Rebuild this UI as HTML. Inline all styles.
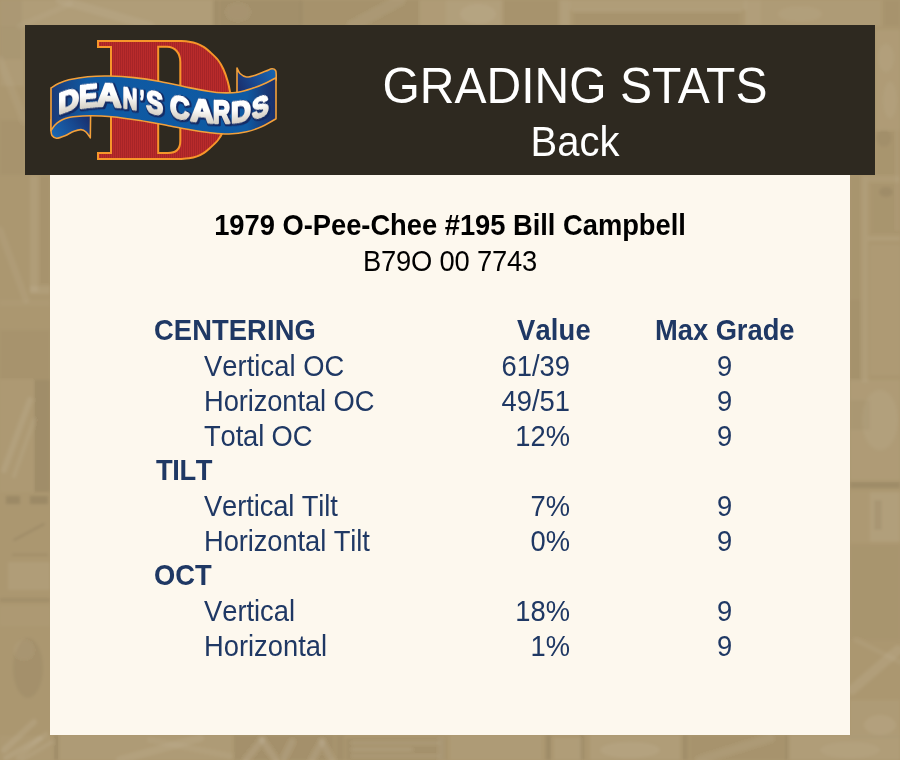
<!DOCTYPE html>
<html><head><meta charset="utf-8"><title>Grading Stats</title>
<style>
html,body{margin:0;padding:0;}
body{width:900px;height:760px;position:relative;overflow:hidden;background:#ab9770;font-family:"Liberation Sans",Arial,sans-serif;font-kerning:none;}
#hdr{position:absolute;left:25px;top:25px;width:850px;height:150px;background:#2e2920;}
#panel{position:absolute;left:50px;top:175px;width:800px;height:560px;background:#fdf8ee;}
#t1{font-kerning:normal;transform:scaleY(1.042);transform-origin:0 44.6px;position:absolute;left:275px;width:600px;top:59.1px;text-align:center;color:#fff;font-size:48px;line-height:56px;white-space:nowrap;}
#t2{transform:scaleY(1.042);transform-origin:0 36.9px;position:absolute;left:275px;width:600px;top:118.7px;text-align:center;color:#fff;font-size:40px;line-height:46px;white-space:nowrap;}
#name{transform:scaleY(1.05);transform-origin:0 24.5px;letter-spacing:-0.02px;position:absolute;left:50px;width:800px;top:210.7px;text-align:center;font-weight:bold;font-size:27.33px;line-height:30px;color:#000;white-space:nowrap;}
#sku{transform:scaleY(1.05);transform-origin:0 24.5px;letter-spacing:-0.19px;position:absolute;left:50px;width:800px;top:246.8px;text-align:center;font-size:27.33px;line-height:30px;color:#000;white-space:nowrap;}
.row{transform:scaleY(1.05);transform-origin:0 27px;position:absolute;left:0;width:900px;height:35px;line-height:35px;font-size:27.33px;color:#1f3864;white-space:nowrap;}
.row span{position:absolute;top:0;}
.h{font-weight:bold;left:154px;}
.l{left:204px;}
.v{right:330px;text-align:right;}
.vh{left:517px;font-weight:bold;}
.g{left:717px;}
.gh{left:655px;font-weight:bold;}
</style></head><body>
<!--BG--><svg id="bg" width="900" height="760" viewBox="0 0 900 760" style="position:absolute;left:0;top:0"><defs><filter id="bgb" x="0" y="0" width="900" height="760" filterUnits="userSpaceOnUse"><feGaussianBlur stdDeviation="1.5"/></filter></defs><g filter="url(#bgb)"><rect x="0" y="0" width="212" height="26" fill="#fff" fill-opacity="0.053"/><rect x="0" y="0" width="22" height="60" fill="#241200" fill-opacity="0.03"/><path d="M60,0 L150,26" stroke="#fff" stroke-opacity="0.053" stroke-width="9" fill="none" stroke-linecap="round"/><path d="M20,26 L70,4" stroke="#fff" stroke-opacity="0.038" stroke-width="6" fill="none" stroke-linecap="round"/><rect x="213" y="0" width="6" height="26" fill="#241200" fill-opacity="0.06"/><rect x="220" y="0" width="82" height="26" fill="#241200" fill-opacity="0.053"/><ellipse cx="238" cy="12" rx="12" ry="9" fill="#fff" fill-opacity="0.045"/><rect x="300" y="0" width="120" height="26" fill="#241200" fill-opacity="0.03"/><path d="M352,26 L400,0" stroke="#fff" stroke-opacity="0.053" stroke-width="10" fill="none" stroke-linecap="round"/><rect x="420" y="0" width="26" height="26" fill="#fff" fill-opacity="0.045"/><rect x="446" y="0" width="56" height="26" fill="#fff" fill-opacity="0.075"/><ellipse cx="478" cy="14" rx="18" ry="10" fill="#fff" fill-opacity="0.053"/><rect x="502" y="0" width="58" height="26" fill="#241200" fill-opacity="0.022"/><rect x="560" y="0" width="10" height="26" fill="#fff" fill-opacity="0.075"/><rect x="570" y="0" width="176" height="10" fill="#fff" fill-opacity="0.06"/><rect x="574" y="11" width="166" height="15" fill="#241200" fill-opacity="0.022"/><rect x="572" y="10" width="170" height="1.5" fill="#fff" fill-opacity="0.09"/><rect x="745" y="0" width="16" height="26" fill="#fff" fill-opacity="0.068"/><rect x="761" y="0" width="120" height="26" fill="#fff" fill-opacity="0.038"/><ellipse cx="800" cy="14" rx="22" ry="8" fill="#fff" fill-opacity="0.038"/><rect x="884" y="0" width="16" height="26" fill="#241200" fill-opacity="0.022"/><rect x="0" y="736" width="52" height="24" fill="#fff" fill-opacity="0.022"/><path d="M6,758 L40,738" stroke="#fff" stroke-opacity="0.075" stroke-width="5" fill="none" stroke-linecap="round"/><path d="M22,760 L52,742" stroke="#fff" stroke-opacity="0.06" stroke-width="4" fill="none" stroke-linecap="round"/><rect x="54" y="735" width="5" height="25" fill="#241200" fill-opacity="0.06"/><rect x="60" y="735" width="172" height="25" fill="#fff" fill-opacity="0.038"/><path d="M120,760 L200,738" stroke="#fff" stroke-opacity="0.06" stroke-width="8" fill="none" stroke-linecap="round"/><path d="M150,740 L230,756" stroke="#fff" stroke-opacity="0.045" stroke-width="6" fill="none" stroke-linecap="round"/><rect x="234" y="735" width="100" height="25" fill="#241200" fill-opacity="0.045"/><path d="M246,760 L262,740" stroke="#fff" stroke-opacity="0.098" stroke-width="6" fill="none" stroke-linecap="round"/><path d="M262,740 L276,760" stroke="#fff" stroke-opacity="0.098" stroke-width="6" fill="none" stroke-linecap="round"/><path d="M292,742 L284,758" stroke="#fff" stroke-opacity="0.09" stroke-width="6" fill="none" stroke-linecap="round"/><path d="M312,760 L322,742" stroke="#fff" stroke-opacity="0.09" stroke-width="6" fill="none" stroke-linecap="round"/><path d="M322,742 L332,760" stroke="#fff" stroke-opacity="0.09" stroke-width="6" fill="none" stroke-linecap="round"/><rect x="336" y="735" width="8" height="25" fill="#241200" fill-opacity="0.045"/><rect x="346" y="738" width="100" height="22" fill="#241200" fill-opacity="0.038"/><rect x="352" y="742" width="88" height="2" fill="#fff" fill-opacity="0.09"/><rect x="352" y="748" width="60" height="3" fill="#fff" fill-opacity="0.09"/><rect x="352" y="755" width="88" height="2" fill="#fff" fill-opacity="0.075"/><rect x="438" y="738" width="6" height="22" fill="#fff" fill-opacity="0.06"/><rect x="450" y="735" width="92" height="25" fill="#fff" fill-opacity="0.038"/><rect x="546" y="735" width="5" height="25" fill="#241200" fill-opacity="0.075"/><rect x="554" y="738" width="26" height="22" fill="#fff" fill-opacity="0.06"/><rect x="580" y="735" width="4" height="25" fill="#241200" fill-opacity="0.075"/><rect x="590" y="735" width="90" height="25" fill="#fff" fill-opacity="0.053"/><ellipse cx="630" cy="750" rx="30" ry="8" fill="#fff" fill-opacity="0.053"/><rect x="682" y="735" width="6" height="25" fill="#241200" fill-opacity="0.053"/><rect x="690" y="735" width="94" height="25" fill="#241200" fill-opacity="0.022"/><path d="M700,760 L770,738" stroke="#fff" stroke-opacity="0.053" stroke-width="8" fill="none" stroke-linecap="round"/><rect x="785" y="735" width="4" height="25" fill="#241200" fill-opacity="0.068"/><rect x="790" y="735" width="110" height="25" fill="#fff" fill-opacity="0.053"/><ellipse cx="850" cy="750" rx="30" ry="8" fill="#fff" fill-opacity="0.045"/><rect x="0" y="26" width="24" height="60" fill="#fff" fill-opacity="0.038"/><path d="M0,60 L24,120" stroke="#fff" stroke-opacity="0.038" stroke-width="8" fill="none" stroke-linecap="round"/><rect x="0" y="120" width="25" height="55" fill="#241200" fill-opacity="0.022"/><rect x="30" y="176" width="8" height="116" fill="#fff" fill-opacity="0.06"/><rect x="30" y="286" width="20" height="8" fill="#fff" fill-opacity="0.06"/><rect x="39" y="176" width="11" height="110" fill="#241200" fill-opacity="0.022"/><path d="M0,230 L26,300" stroke="#fff" stroke-opacity="0.045" stroke-width="7" fill="none" stroke-linecap="round"/><rect x="0" y="300" width="50" height="6" fill="#fff" fill-opacity="0.022"/><rect x="0" y="330" width="50" height="50" fill="#241200" fill-opacity="0.022"/><rect x="34" y="380" width="16" height="112" fill="#241200" fill-opacity="0.068"/><path d="M4,470 L30,400" stroke="#fff" stroke-opacity="0.068" stroke-width="6" fill="none" stroke-linecap="round"/><path d="M14,476 L34,420" stroke="#fff" stroke-opacity="0.053" stroke-width="4" fill="none" stroke-linecap="round"/><rect x="0" y="380" width="33" height="112" fill="#fff" fill-opacity="0.022"/><rect x="6" y="496" width="14" height="8" fill="#241200" fill-opacity="0.09"/><rect x="30" y="496" width="18" height="8" fill="#241200" fill-opacity="0.09"/><path d="M14,540 L44,524" stroke="#241200" stroke-opacity="0.105" stroke-width="1.5" fill="none" stroke-linecap="round"/><rect x="12" y="554" width="36" height="1.5" fill="#241200" fill-opacity="0.09"/><rect x="8" y="562" width="42" height="28" fill="#fff" fill-opacity="0.053"/><rect x="0" y="598" width="50" height="4" fill="#241200" fill-opacity="0.06"/><ellipse cx="28" cy="668" rx="15" ry="30" fill="#241200" fill-opacity="0.045"/><ellipse cx="24" cy="650" rx="10" ry="10" fill="#fff" fill-opacity="0.038"/><rect x="0" y="606" width="50" height="20" fill="#fff" fill-opacity="0.022"/><path d="M4,750 L34,722" stroke="#fff" stroke-opacity="0.075" stroke-width="6" fill="none" stroke-linecap="round"/><path d="M18,758 L46,734" stroke="#fff" stroke-opacity="0.06" stroke-width="5" fill="none" stroke-linecap="round"/><rect x="876" y="30" width="24" height="100" fill="#fff" fill-opacity="0.045"/><ellipse cx="886" cy="58" rx="8" ry="14" fill="#fff" fill-opacity="0.038"/><ellipse cx="890" cy="100" rx="7" ry="18" fill="#fff" fill-opacity="0.038"/><ellipse cx="884" cy="138" rx="8" ry="9" fill="#241200" fill-opacity="0.038"/><rect x="876" y="130" width="24" height="45" fill="#241200" fill-opacity="0.015"/><rect x="896" y="130" width="2" height="100" fill="#fff" fill-opacity="0.06"/><rect x="862" y="176" width="6" height="206" fill="#fff" fill-opacity="0.06"/><rect x="850" y="176" width="12" height="206" fill="#241200" fill-opacity="0.015"/><rect x="868" y="176" width="32" height="6" fill="#fff" fill-opacity="0.045"/><rect x="868" y="236" width="32" height="5" fill="#fff" fill-opacity="0.06"/><rect x="872" y="184" width="28" height="50" fill="#241200" fill-opacity="0.015"/><ellipse cx="886" cy="192" rx="7" ry="5" fill="#241200" fill-opacity="0.06"/><rect x="870" y="245" width="30" height="130" fill="#fff" fill-opacity="0.03"/><rect x="850" y="300" width="12" height="80" fill="#241200" fill-opacity="0.022"/><rect x="850" y="380" width="50" height="100" fill="#fff" fill-opacity="0.045"/><ellipse cx="880" cy="420" rx="18" ry="30" fill="#fff" fill-opacity="0.045"/><rect x="850" y="400" width="20" height="30" fill="#241200" fill-opacity="0.03"/><rect x="850" y="482" width="50" height="6" fill="#241200" fill-opacity="0.075"/><rect x="870" y="492" width="30" height="50" fill="#fff" fill-opacity="0.075"/><rect x="874" y="500" width="8" height="30" fill="#241200" fill-opacity="0.06"/><rect x="850" y="492" width="20" height="50" fill="#fff" fill-opacity="0.022"/><rect x="850" y="545" width="50" height="95" fill="#241200" fill-opacity="0.015"/><path d="M852,690 L898,650" stroke="#fff" stroke-opacity="0.068" stroke-width="10" fill="none" stroke-linecap="round"/><path d="M856,640 L900,662" stroke="#fff" stroke-opacity="0.045" stroke-width="5" fill="none" stroke-linecap="round"/><rect x="850" y="700" width="50" height="36" fill="#fff" fill-opacity="0.038"/><ellipse cx="880" cy="725" rx="16" ry="10" fill="#fff" fill-opacity="0.053"/><rect x="850" y="735" width="50" height="3" fill="#241200" fill-opacity="0.03"/></g></svg><!--/BG-->
<div id="hdr"></div>
<div id="panel"></div>
<!--LOGO--><svg id="logo" width="900" height="760" viewBox="0 0 900 760" style="position:absolute;left:0;top:0" role="img" aria-label="DEAN’S CARDS">
<title>DEAN’S CARDS</title>
<defs>
<pattern id="stripe" patternUnits="userSpaceOnUse" width="2" height="8"><rect width="2" height="8" fill="#b92b2b"/><rect width="1" height="8" fill="#a72427"/></pattern>
<linearGradient id="gband" gradientUnits="userSpaceOnUse" x1="51" y1="0" x2="276" y2="0"><stop offset="0" stop-color="#1b3976"/><stop offset=".06" stop-color="#174789"/><stop offset=".16" stop-color="#0f59a2"/><stop offset=".87" stop-color="#0e5aa3"/><stop offset=".95" stop-color="#193b7a"/><stop offset="1" stop-color="#1b2f69"/></linearGradient>
<linearGradient id="gtail" gradientUnits="userSpaceOnUse" x1="88" y1="116" x2="56" y2="138"><stop offset="0" stop-color="#1a2f6c"/><stop offset=".45" stop-color="#174a92"/><stop offset="1" stop-color="#1a66b0"/></linearGradient>
<linearGradient id="gfold" gradientUnits="userSpaceOnUse" x1="238" y1="88" x2="274" y2="70"><stop offset="0" stop-color="#1b2f6d"/><stop offset=".5" stop-color="#184c95"/><stop offset="1" stop-color="#1764ae"/></linearGradient>
<linearGradient id="tfill" gradientUnits="userSpaceOnUse" x1="0" y1="92.5" x2="0" y2="115.7"><stop offset="0" stop-color="#ffffff"/><stop offset=".4" stop-color="#fdfdfc"/><stop offset=".75" stop-color="#e4e0d8"/><stop offset="1" stop-color="#d2cdc3"/></linearGradient>
<filter id="warp" filterUnits="userSpaceOnUse" primitiveUnits="userSpaceOnUse" x="40" y="60" width="250" height="100" color-interpolation-filters="sRGB"><feFlood x="40" y="60" width="4" height="100" flood-color="rgb(34,128,0)" result="f0"/><feFlood x="43" y="60" width="4" height="100" flood-color="rgb(51,128,0)" result="f1"/><feFlood x="46" y="60" width="4" height="100" flood-color="rgb(69,128,0)" result="f2"/><feFlood x="49" y="60" width="4" height="100" flood-color="rgb(85,128,0)" result="f3"/><feFlood x="52" y="60" width="4" height="100" flood-color="rgb(100,128,0)" result="f4"/><feFlood x="55" y="60" width="4" height="100" flood-color="rgb(115,128,0)" result="f5"/><feFlood x="58" y="60" width="4" height="100" flood-color="rgb(130,128,0)" result="f6"/><feFlood x="61" y="60" width="4" height="100" flood-color="rgb(145,128,0)" result="f7"/><feFlood x="64" y="60" width="4" height="100" flood-color="rgb(159,128,0)" result="f8"/><feFlood x="67" y="60" width="4" height="100" flood-color="rgb(173,128,0)" result="f9"/><feFlood x="70" y="60" width="4" height="100" flood-color="rgb(185,128,0)" result="f10"/><feFlood x="73" y="60" width="4" height="100" flood-color="rgb(192,128,0)" result="f11"/><feFlood x="76" y="60" width="4" height="100" flood-color="rgb(198,128,0)" result="f12"/><feFlood x="79" y="60" width="4" height="100" flood-color="rgb(204,128,0)" result="f13"/><feFlood x="82" y="60" width="4" height="100" flood-color="rgb(209,128,0)" result="f14"/><feFlood x="85" y="60" width="4" height="100" flood-color="rgb(214,128,0)" result="f15"/><feFlood x="88" y="60" width="4" height="100" flood-color="rgb(219,128,0)" result="f16"/><feFlood x="91" y="60" width="4" height="100" flood-color="rgb(222,128,0)" result="f17"/><feFlood x="94" y="60" width="4" height="100" flood-color="rgb(226,128,0)" result="f18"/><feFlood x="97" y="60" width="4" height="100" flood-color="rgb(230,128,0)" result="f19"/><feFlood x="100" y="60" width="4" height="100" flood-color="rgb(231,128,0)" result="f20"/><feFlood x="103" y="60" width="4" height="100" flood-color="rgb(233,128,0)" result="f21"/><feFlood x="106" y="60" width="4" height="100" flood-color="rgb(231,128,0)" result="f22"/><feFlood x="109" y="60" width="4" height="100" flood-color="rgb(228,128,0)" result="f23"/><feFlood x="112" y="60" width="4" height="100" flood-color="rgb(225,128,0)" result="f24"/><feFlood x="115" y="60" width="4" height="100" flood-color="rgb(220,128,0)" result="f25"/><feFlood x="118" y="60" width="4" height="100" flood-color="rgb(216,128,0)" result="f26"/><feFlood x="121" y="60" width="4" height="100" flood-color="rgb(211,128,0)" result="f27"/><feFlood x="124" y="60" width="4" height="100" flood-color="rgb(206,128,0)" result="f28"/><feFlood x="127" y="60" width="4" height="100" flood-color="rgb(200,128,0)" result="f29"/><feFlood x="130" y="60" width="4" height="100" flood-color="rgb(194,128,0)" result="f30"/><feFlood x="133" y="60" width="4" height="100" flood-color="rgb(187,128,0)" result="f31"/><feFlood x="136" y="60" width="4" height="100" flood-color="rgb(180,128,0)" result="f32"/><feFlood x="139" y="60" width="4" height="100" flood-color="rgb(171,128,0)" result="f33"/><feFlood x="142" y="60" width="4" height="100" flood-color="rgb(163,128,0)" result="f34"/><feFlood x="145" y="60" width="4" height="100" flood-color="rgb(154,128,0)" result="f35"/><feFlood x="148" y="60" width="4" height="100" flood-color="rgb(145,128,0)" result="f36"/><feFlood x="151" y="60" width="4" height="100" flood-color="rgb(136,128,0)" result="f37"/><feFlood x="154" y="60" width="4" height="100" flood-color="rgb(127,128,0)" result="f38"/><feFlood x="157" y="60" width="4" height="100" flood-color="rgb(119,128,0)" result="f39"/><feFlood x="160" y="60" width="4" height="100" flood-color="rgb(111,128,0)" result="f40"/><feFlood x="163" y="60" width="4" height="100" flood-color="rgb(104,128,0)" result="f41"/><feFlood x="166" y="60" width="4" height="100" flood-color="rgb(97,128,0)" result="f42"/><feFlood x="169" y="60" width="4" height="100" flood-color="rgb(90,128,0)" result="f43"/><feFlood x="172" y="60" width="4" height="100" flood-color="rgb(84,128,0)" result="f44"/><feFlood x="175" y="60" width="4" height="100" flood-color="rgb(77,128,0)" result="f45"/><feFlood x="178" y="60" width="4" height="100" flood-color="rgb(71,128,0)" result="f46"/><feFlood x="181" y="60" width="4" height="100" flood-color="rgb(64,128,0)" result="f47"/><feFlood x="184" y="60" width="4" height="100" flood-color="rgb(56,128,0)" result="f48"/><feFlood x="187" y="60" width="4" height="100" flood-color="rgb(48,128,0)" result="f49"/><feFlood x="190" y="60" width="4" height="100" flood-color="rgb(42,128,0)" result="f50"/><feFlood x="193" y="60" width="4" height="100" flood-color="rgb(37,128,0)" result="f51"/><feFlood x="196" y="60" width="4" height="100" flood-color="rgb(33,128,0)" result="f52"/><feFlood x="199" y="60" width="4" height="100" flood-color="rgb(28,128,0)" result="f53"/><feFlood x="202" y="60" width="4" height="100" flood-color="rgb(24,128,0)" result="f54"/><feFlood x="205" y="60" width="4" height="100" flood-color="rgb(22,128,0)" result="f55"/><feFlood x="208" y="60" width="4" height="100" flood-color="rgb(19,128,0)" result="f56"/><feFlood x="211" y="60" width="4" height="100" flood-color="rgb(17,128,0)" result="f57"/><feFlood x="214" y="60" width="4" height="100" flood-color="rgb(15,128,0)" result="f58"/><feFlood x="217" y="60" width="4" height="100" flood-color="rgb(14,128,0)" result="f59"/><feFlood x="220" y="60" width="4" height="100" flood-color="rgb(13,128,0)" result="f60"/><feFlood x="223" y="60" width="4" height="100" flood-color="rgb(14,128,0)" result="f61"/><feFlood x="226" y="60" width="4" height="100" flood-color="rgb(15,128,0)" result="f62"/><feFlood x="229" y="60" width="4" height="100" flood-color="rgb(16,128,0)" result="f63"/><feFlood x="232" y="60" width="4" height="100" flood-color="rgb(19,128,0)" result="f64"/><feFlood x="235" y="60" width="4" height="100" flood-color="rgb(24,128,0)" result="f65"/><feFlood x="238" y="60" width="4" height="100" flood-color="rgb(29,128,0)" result="f66"/><feFlood x="241" y="60" width="4" height="100" flood-color="rgb(35,128,0)" result="f67"/><feFlood x="244" y="60" width="4" height="100" flood-color="rgb(42,128,0)" result="f68"/><feFlood x="247" y="60" width="4" height="100" flood-color="rgb(50,128,0)" result="f69"/><feFlood x="250" y="60" width="4" height="100" flood-color="rgb(58,128,0)" result="f70"/><feFlood x="253" y="60" width="4" height="100" flood-color="rgb(66,128,0)" result="f71"/><feFlood x="256" y="60" width="4" height="100" flood-color="rgb(77,128,0)" result="f72"/><feFlood x="259" y="60" width="4" height="100" flood-color="rgb(89,128,0)" result="f73"/><feFlood x="262" y="60" width="4" height="100" flood-color="rgb(102,128,0)" result="f74"/><feFlood x="265" y="60" width="4" height="100" flood-color="rgb(117,128,0)" result="f75"/><feFlood x="268" y="60" width="4" height="100" flood-color="rgb(133,128,0)" result="f76"/><feFlood x="271" y="60" width="4" height="100" flood-color="rgb(151,128,0)" result="f77"/><feFlood x="274" y="60" width="4" height="100" flood-color="rgb(169,128,0)" result="f78"/><feFlood x="277" y="60" width="4" height="100" flood-color="rgb(189,128,0)" result="f79"/><feFlood x="280" y="60" width="4" height="100" flood-color="rgb(210,128,0)" result="f80"/><feFlood x="283" y="60" width="4" height="100" flood-color="rgb(230,128,0)" result="f81"/><feFlood x="286" y="60" width="4" height="100" flood-color="rgb(251,128,0)" result="f82"/><feFlood x="289" y="60" width="4" height="100" flood-color="rgb(268,128,0)" result="f83"/><feMerge result="m0"><feMergeNode in="f0"/><feMergeNode in="f1"/><feMergeNode in="f2"/><feMergeNode in="f3"/><feMergeNode in="f4"/><feMergeNode in="f5"/><feMergeNode in="f6"/><feMergeNode in="f7"/><feMergeNode in="f8"/><feMergeNode in="f9"/><feMergeNode in="f10"/><feMergeNode in="f11"/><feMergeNode in="f12"/><feMergeNode in="f13"/><feMergeNode in="f14"/><feMergeNode in="f15"/><feMergeNode in="f16"/><feMergeNode in="f17"/><feMergeNode in="f18"/><feMergeNode in="f19"/><feMergeNode in="f20"/><feMergeNode in="f21"/><feMergeNode in="f22"/><feMergeNode in="f23"/><feMergeNode in="f24"/><feMergeNode in="f25"/><feMergeNode in="f26"/><feMergeNode in="f27"/><feMergeNode in="f28"/><feMergeNode in="f29"/><feMergeNode in="f30"/><feMergeNode in="f31"/><feMergeNode in="f32"/><feMergeNode in="f33"/><feMergeNode in="f34"/><feMergeNode in="f35"/><feMergeNode in="f36"/><feMergeNode in="f37"/><feMergeNode in="f38"/><feMergeNode in="f39"/><feMergeNode in="f40"/><feMergeNode in="f41"/><feMergeNode in="f42"/><feMergeNode in="f43"/><feMergeNode in="f44"/><feMergeNode in="f45"/><feMergeNode in="f46"/><feMergeNode in="f47"/><feMergeNode in="f48"/><feMergeNode in="f49"/><feMergeNode in="f50"/><feMergeNode in="f51"/><feMergeNode in="f52"/><feMergeNode in="f53"/><feMergeNode in="f54"/><feMergeNode in="f55"/><feMergeNode in="f56"/><feMergeNode in="f57"/><feMergeNode in="f58"/><feMergeNode in="f59"/><feMergeNode in="f60"/><feMergeNode in="f61"/><feMergeNode in="f62"/><feMergeNode in="f63"/><feMergeNode in="f64"/><feMergeNode in="f65"/><feMergeNode in="f66"/><feMergeNode in="f67"/><feMergeNode in="f68"/><feMergeNode in="f69"/><feMergeNode in="f70"/><feMergeNode in="f71"/><feMergeNode in="f72"/><feMergeNode in="f73"/><feMergeNode in="f74"/><feMergeNode in="f75"/><feMergeNode in="f76"/><feMergeNode in="f77"/><feMergeNode in="f78"/><feMergeNode in="f79"/><feMergeNode in="f80"/><feMergeNode in="f81"/><feMergeNode in="f82"/><feMergeNode in="f83"/></feMerge><feGaussianBlur in="m0" stdDeviation="2.5 0" result="map"/><feComponentTransfer in="map" result="ma"><feFuncR type="linear" slope="1" intercept="0.01875"/></feComponentTransfer><feDisplacementMap in="SourceGraphic" in2="ma" scale="20" xChannelSelector="G" yChannelSelector="R" result="wa"/><feComponentTransfer in="map" result="mb"><feFuncR type="linear" slope="1" intercept="0.00625"/></feComponentTransfer><feDisplacementMap in="SourceGraphic" in2="mb" scale="20" xChannelSelector="G" yChannelSelector="R" result="wb"/><feComponentTransfer in="map" result="mc"><feFuncR type="linear" slope="1" intercept="-0.00625"/></feComponentTransfer><feDisplacementMap in="SourceGraphic" in2="mc" scale="20" xChannelSelector="G" yChannelSelector="R" result="wc"/><feComponentTransfer in="map" result="md"><feFuncR type="linear" slope="1" intercept="-0.01875"/></feComponentTransfer><feDisplacementMap in="SourceGraphic" in2="md" scale="20" xChannelSelector="G" yChannelSelector="R" result="wd"/><feComposite in="wa" in2="wb" operator="arithmetic" k1="0" k2="0.5" k3="0.5" k4="0" result="wab"/><feComposite in="wc" in2="wd" operator="arithmetic" k1="0" k2="0.5" k3="0.5" k4="0" result="wcd"/><feComposite in="wab" in2="wcd" operator="arithmetic" k1="0" k2="0.5" k3="0.5" k4="0" result="w"/><feGaussianBlur in="w" stdDeviation="0.3" result="wt"/><feMorphology in="wt" operator="dilate" radius="0.7" result="dl"/><feOffset in="dl" dx="1.1" dy="1.1" result="of"/><feGaussianBlur in="of" stdDeviation="0.6" result="ob"/><feFlood flood-color="#142c66" result="nv"/><feComposite in="nv" in2="ob" operator="in" result="sh"/><feMerge><feMergeNode in="sh"/><feMergeNode in="wt"/></feMerge></filter>
</defs>
<path d="M98,41 H180 C181.5,41.1 186.2,41.3 189.0,41.7 C191.8,42.1 194.5,42.7 197.0,43.6 C199.5,44.5 201.8,45.8 204.0,47.2 C206.2,48.6 207.7,49.9 210.0,52.0 C212.3,54.1 215.8,57.2 218.0,60.0 C220.2,62.8 221.7,65.5 223.3,69.0 C224.9,72.5 226.5,77.3 227.6,81.0 C228.7,84.7 229.3,87.8 229.8,91.0 C230.3,94.2 230.5,97.0 230.5,100.0 C230.5,103.0 230.3,105.8 229.8,109.0 C229.3,112.2 228.7,115.3 227.6,119.0 C226.5,122.7 224.9,127.5 223.3,131.0 C221.7,134.5 220.2,137.2 218.0,140.0 C215.8,142.8 212.3,145.9 210.0,148.0 C207.7,150.1 206.2,151.4 204.0,152.8 C201.8,154.2 199.5,155.5 197.0,156.4 C194.5,157.3 191.8,157.9 189.0,158.3 C186.2,158.7 181.5,158.9 180.0,159.0 H98 V153 H111 V47 H98 Z M158.2,46.8 H167 C175,46.8 180.3,53 180.3,62 V141 C180.3,148.5 176,153 168,153 H158.2 Z" fill="url(#stripe)" fill-rule="evenodd" stroke="#f7962a" stroke-width="2" stroke-linejoin="miter"/>
<path d="M51,120 L51.0,131.0 C51.2,131.8 51.1,134.3 52.0,135.5 C52.9,136.7 54.3,138.2 56.5,138.3 C58.7,138.4 62.1,137.0 65.0,135.8 C67.9,134.6 71.3,132.2 74.0,131.2 C76.7,130.2 79.0,129.5 81.0,129.6 C83.0,129.7 84.5,130.6 86.0,132.0 C87.5,133.4 89.6,136.8 90.3,137.8 L90.6,115 L60,112 Z" fill="url(#gtail)" stroke="#f3a03a" stroke-width="1.6" stroke-linejoin="round"/>
<path d="M237,93 L237,68 C237.5,68.9 238.4,72.0 240.0,73.5 C241.6,75.0 243.8,76.8 246.5,77.0 C249.2,77.2 252.8,76.0 256.0,75.0 C259.2,74.0 263.3,72.0 266.0,71.0 C268.7,70.0 270.4,68.9 272.0,68.8 C273.6,68.7 274.9,69.5 275.6,70.5 C276.3,71.5 276.1,74.2 276.2,75.0 L276.2,80 L260,88 Z" fill="url(#gfold)" stroke="#f3a03a" stroke-width="1.6" stroke-linejoin="round"/>
<path d="M51.0,88.0 C52.3,87.2 56.0,84.7 59.0,83.3 C62.0,81.9 64.1,80.9 68.9,79.8 C73.7,78.7 81.0,77.3 87.7,76.7 C94.4,76.1 101.6,75.8 109.3,76.0 C117.0,76.2 125.5,76.7 133.9,77.6 C142.3,78.5 150.8,79.8 160.0,81.5 C169.2,83.2 180.6,85.9 188.9,87.6 C197.2,89.3 204.5,90.6 210.0,91.5 C215.5,92.4 217.3,92.7 222.0,92.8 C226.7,92.9 232.7,93.0 238.0,92.2 C243.3,91.4 249.3,89.3 254.0,87.8 C258.7,86.3 262.3,84.7 266.0,83.0 C269.7,81.3 274.3,78.6 276.0,77.7 L276.0,118.8 C273.7,120.1 266.9,124.3 262.0,126.5 C257.1,128.7 252.2,130.6 246.7,131.8 C241.2,133.1 235.1,133.8 229.0,134.0 C222.9,134.2 216.7,133.4 210.0,132.7 C203.3,131.9 195.7,130.6 189.0,129.5 C182.3,128.4 178.2,127.5 170.0,126.0 C161.8,124.5 149.7,122.0 140.0,120.5 C130.3,119.0 120.2,117.5 112.0,116.7 C103.8,115.9 97.1,115.7 90.6,115.7 C84.1,115.7 77.3,116.3 73.2,116.7 C69.1,117.1 68.2,117.6 66.0,118.3 C63.8,119.0 61.8,119.9 60.0,121.0 C58.2,122.1 56.5,123.4 55.0,125.0 C53.5,126.6 51.7,129.6 51.0,130.5 Z" fill="url(#gband)" stroke="#f3a03a" stroke-width="1.6" stroke-linejoin="round"/>
<g filter="url(#warp)"><text y="113.8" font-family="'Liberation Sans',Arial,sans-serif" font-weight="bold" font-size="29.8" fill="url(#tfill)" stroke="url(#tfill)" stroke-width="2.3" stroke-linejoin="round" style="font-kerning:none;white-space:pre" xml:space="preserve"><tspan x="58.2" textLength="20.8" lengthAdjust="spacingAndGlyphs" font-size="29.2">D</tspan><tspan x="78.9" textLength="18.7" lengthAdjust="spacingAndGlyphs" font-size="31.5">E</tspan><tspan x="96.6" textLength="24.9" lengthAdjust="spacingAndGlyphs" font-size="30.8">A</tspan><tspan x="122.8" textLength="14.6" lengthAdjust="spacingAndGlyphs" font-size="30.2">N</tspan><tspan x="139.7" textLength="4.5" lengthAdjust="spacingAndGlyphs" font-size="30.4">’</tspan><tspan x="146.2" textLength="16.9" lengthAdjust="spacingAndGlyphs" font-size="30.8">S</tspan> <tspan x="170.0" textLength="19.6" lengthAdjust="spacingAndGlyphs" font-size="31.5">C</tspan><tspan x="190.3" textLength="23.6" lengthAdjust="spacingAndGlyphs" font-size="31.3">A</tspan><tspan x="212.9" textLength="17.1" lengthAdjust="spacingAndGlyphs" font-size="30.7">R</tspan><tspan x="231.1" textLength="19.9" lengthAdjust="spacingAndGlyphs" font-size="29.8">D</tspan><tspan x="251.9" textLength="16.7" lengthAdjust="spacingAndGlyphs" font-size="30.1">S</tspan></text></g>
</svg><!--/LOGO-->
<div id="t1">GRADING STATS</div>
<div id="t2">Back</div>
<div id="name">1979 O-Pee-Chee #195 Bill Campbell</div>
<div id="sku">B79O 00 7743</div>
<div class="row" style="top:312.9px"><span class="h" style="letter-spacing:0.1px">CENTERING</span><span class="vh" style="letter-spacing:0.2px">Value</span><span class="gh" style="letter-spacing:-0.03px">Max Grade</span></div>
<div class="row" style="top:348.8px"><span class="l" style="letter-spacing:0.06px">Vertical OC</span><span class="v">61/39</span><span class="g">9</span></div>
<div class="row" style="top:383.8px"><span class="l" style="letter-spacing:-0.1px">Horizontal OC</span><span class="v">49/51</span><span class="g">9</span></div>
<div class="row" style="top:418.8px"><span class="l" style="letter-spacing:-0.13px">Total OC</span><span class="v">12%</span><span class="g">9</span></div>
<div class="row" style="top:452.9px"><span class="h" style="left:156px;letter-spacing:-0.38px">TILT</span></div>
<div class="row" style="top:488.8px"><span class="l" style="letter-spacing:-0.11px">Vertical Tilt</span><span class="v">7%</span><span class="g">9</span></div>
<div class="row" style="top:523.8px"><span class="l" style="letter-spacing:-0.09px">Horizontal Tilt</span><span class="v">0%</span><span class="g">9</span></div>
<div class="row" style="top:558.2px"><span class="h" style="letter-spacing:0px">OCT</span></div>
<div class="row" style="top:593.8px"><span class="l" style="letter-spacing:-0.02px">Vertical</span><span class="v">18%</span><span class="g">9</span></div>
<div class="row" style="top:628.8px"><span class="l" style="letter-spacing:0px">Horizontal</span><span class="v">1%</span><span class="g">9</span></div>
</body></html>
